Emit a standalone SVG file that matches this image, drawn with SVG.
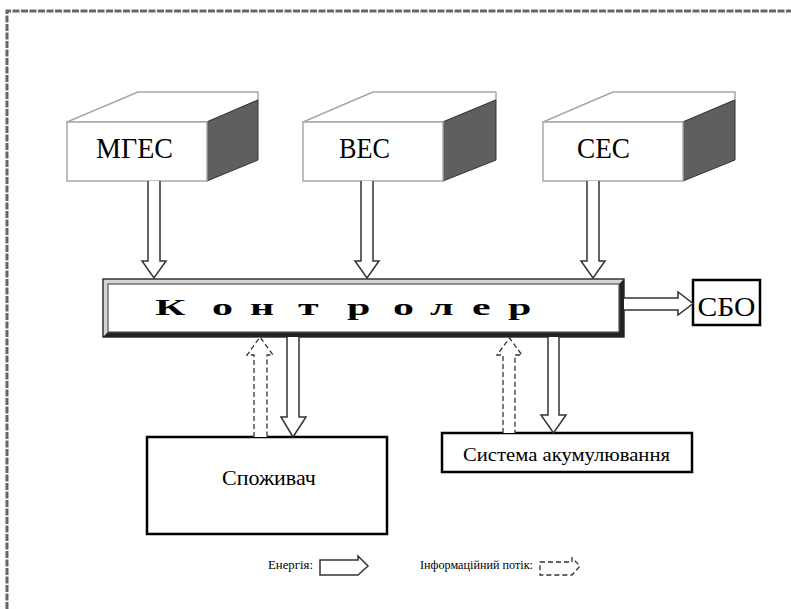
<svg xmlns="http://www.w3.org/2000/svg" width="791" height="609" viewBox="0 0 791 609">
<style>
text{font-family:'Liberation Serif','Times New Roman',serif;fill:#000}
.front{fill:#fff;stroke:#a8a8a8;stroke-width:1.5}
.top{fill:#fff;stroke:#a8a8a8;stroke-width:1.5;stroke-linejoin:round}
.dark{fill:#5f5f5f;stroke:#333;stroke-width:1}
.arr{fill:#fff;stroke:#333;stroke-width:1.5;stroke-linejoin:miter}
.darr{fill:#fff;stroke:#333;stroke-width:1.3;stroke-dasharray:5 3}
.box{fill:#fff;stroke:#000;stroke-width:2.5}
</style>
<rect width="791" height="609" fill="#fff"/>
<path d="M7,609 V11 H791" fill="none" stroke="#666" stroke-width="3" stroke-dasharray="7 1.5"/>

<g id="mges">
<polygon class="top" points="67,122 138,92 258,92 258,100 207,122"/>
<polygon class="dark" points="207,122 258,100 258,160 207,181"/>
<rect class="front" x="67" y="122" width="140" height="59"/>
<text x="96" y="158" font-size="30" textLength="77" lengthAdjust="spacingAndGlyphs">МГЕС</text>
</g>
<g id="ves">
<polygon class="top" points="303,122 373,92 496,92 496,100 443,122"/>
<polygon class="dark" points="443,122 496,100 496,160 443,181"/>
<rect class="front" x="303" y="122" width="140" height="59"/>
<text x="339" y="158" font-size="30" textLength="51" lengthAdjust="spacingAndGlyphs">ВЕС</text>
</g>
<g id="ses">
<polygon class="top" points="543,122 613,92 735,92 735,100 683,122"/>
<polygon class="dark" points="683,122 735,100 735,160 683,181"/>
<rect class="front" x="543" y="122" width="140" height="59"/>
<text x="577" y="158" font-size="30" textLength="53" lengthAdjust="spacingAndGlyphs">СЕС</text>
</g>

<g id="controller">
<rect x="103" y="279" width="521" height="58" fill="#d4d4d4" stroke="#333" stroke-width="1.5"/>
<polygon points="624,279 624,337 103,337 108,332 619,332 619,284" fill="#222"/>
<rect x="108" y="284" width="511" height="48" fill="#fff" stroke="#555" stroke-width="1.2"/>
<text font-weight="bold" font-size="24" transform="translate(0,315) scale(1.75,1)" x="88.6 121.1 142.9 170.3 198.3 224.6 245.7 269.7 290.3">Контролер</text>
</g>

<g id="sbo">
<rect class="box" x="693" y="280" width="67" height="45" stroke-width="2"/>
<text x="726.5" y="316" font-size="28" text-anchor="middle" textLength="58" lengthAdjust="spacingAndGlyphs">СБО</text>
</g>

<g id="spozhyvach">
<rect class="box" x="147" y="437" width="240" height="97"/>
<text x="222" y="485" font-size="22">Споживач</text>
</g>

<g id="akum">
<rect class="box" x="442" y="433" width="250" height="39"/>
<text x="463" y="461" font-size="18" textLength="207" lengthAdjust="spacingAndGlyphs">Система акумулювання</text>
</g>

<g id="connectors">
<path class="arr" d="M148,181 V261 H142 L154,278 L166,261 H160 V181"/>
<path class="arr" d="M361,181 V261 H355 L367,278 L379,261 H373 V181"/>
<path class="arr" d="M587,181 V261 H581 L593,278 L605,261 H599 V181"/>
<path class="arr" d="M624,298 H678 V292 L693,303.5 L678,315 V310 H624"/>
<path class="arr" d="M287,337 V417 H281 L293,437 L306,417 H299 V337"/>
<path class="darr" d="M254,437 V355 H247 L260,337 L273,355 H267 V437"/>
<path class="arr" d="M548,337 V415 H541 L553.5,433 L566,415 H559 V337"/>
<path class="darr" d="M503,433 V355 H497 L509.5,338 L522,355 H515 V433"/>
</g>

<g id="legend">
<text x="268" y="569" font-size="13" textLength="45" lengthAdjust="spacingAndGlyphs">Енергія:</text>
<path class="arr" stroke-width="1.2" d="M320,560 H358 V556 L368,566 L358,575 H320 Z"/>
<text x="420" y="569" font-size="13" textLength="113" lengthAdjust="spacingAndGlyphs">Інформаційний потік:</text>
<path class="darr" stroke-width="1.2" d="M540,562 H572 V558 L580,566 L572,575 H540 Z"/>
</g>
</svg>
